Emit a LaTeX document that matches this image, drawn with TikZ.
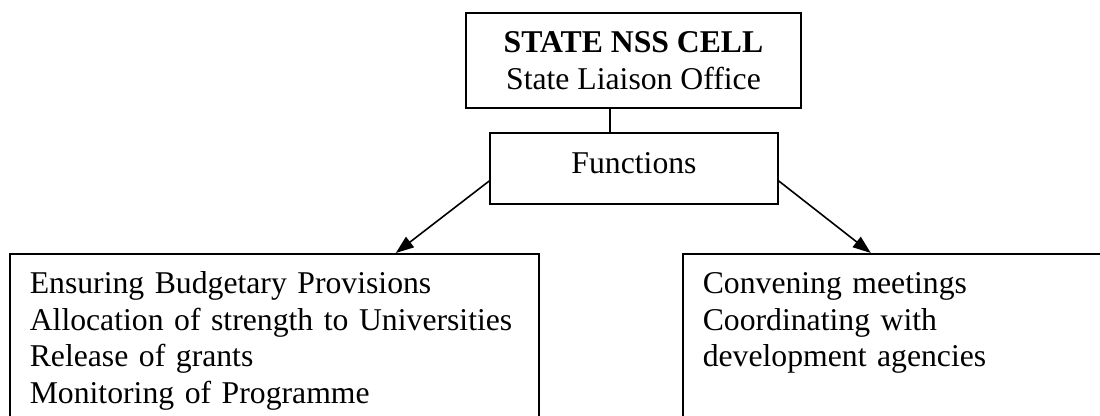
\documentclass[tikz,border=0pt]{standalone}
\usepackage{fontspec}
\setmainfont{Liberation Serif}
\usetikzlibrary{arrows.meta,calc}
\begin{document}
\begin{tikzpicture}[x=1pt,y=-1pt,
    every node/.style={font=\fontsize{31.7pt}{36.5pt}\selectfont},
    box/.style={draw,line width=1.6pt,inner sep=0pt},
    list/.style={draw,line width=1.6pt,anchor=north west,align=left,inner xsep=20pt,inner ysep=18.4pt,text height=21.6pt,text depth=118pt},
    link/.style={line width=1.6pt},
    arr/.style={line width=1.6pt,-{Triangle[length=18pt,width=13pt]}}]
  \useasboundingbox (0,0) rectangle (1100,415);
  \clip (0,0) rectangle (1100,415);
  % top of the chart
  \node[box,minimum width=335pt,minimum height=95pt,align=center] (cell) at (633.5,60.5) {\textbf{STATE NSS CELL}\\State Liaison Office};
  \node[box,minimum width=288pt,minimum height=71pt,text height=21pt,text depth=12pt] (fn) at (634,168.5) {Functions};
  \draw[link] ([xshift=-23.5pt]cell.south) -- ([xshift=-23.5pt]cell.south |- fn.north);
  % the two lists, cut by the page edge
  \node[list,text width=489pt] (duty) at (9,253) {Ensuring Budgetary Provisions\\Allocation of strength to Universities\\Release of grants\\Monitoring of Programme};
  \node[list,text width=420pt] (meet) at (682,253) {Convening meetings\\Coordinating with\\development agencies};
  \draw[arr] ([yshift=-12.5pt]fn.west) -- ([xshift=121.5pt]duty.north);
  \draw[arr] ([yshift=-12.5pt]fn.east) -- ([xshift=-42pt]meet.north);
\end{tikzpicture}
\end{document}
